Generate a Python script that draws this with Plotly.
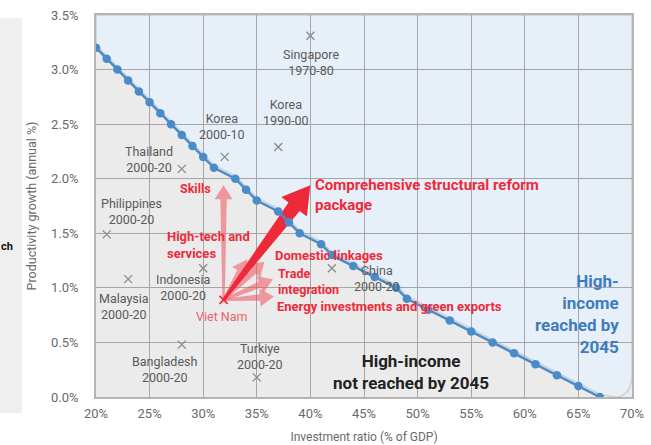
import math
import plotly.graph_objects as go

# Threshold curve: investment ratio needed for a given productivity growth
curve_inv = [20, 21, 22, 23, 24, 25, 26, 27, 28, 29, 30, 31, 33, 34, 35, 37, 38, 39,
             41, 42, 44, 46, 48, 49, 51, 53, 55, 57, 59, 61, 63, 65, 67]
curve_prod = [3.2, 3.1, 3.0, 2.9, 2.8, 2.7, 2.6, 2.5, 2.4, 2.3, 2.2, 2.1, 2.0, 1.9, 1.8,
              1.7, 1.6, 1.5, 1.4, 1.3, 1.2, 1.1, 1.0, 0.9, 0.8, 0.7, 0.6, 0.5, 0.4, 0.3,
              0.2, 0.1, 0.0]

# Country episodes
countries = ["Singapore<br>1970-80", "Korea<br>1990-00", "Korea<br>2000-10",
             "Thailand<br>2000-20", "Philippines<br>2000-20", "Malaysia<br>2000-20",
             "Indonesia<br>2000-20", "Bangladesh<br>2000-20", "Turkiye<br>2000-20",
             "China<br>2000-20"]
country_inv = [40.0, 37.0, 32.0, 28.0, 21.0, 23.0, 30.0, 28.0, 35.0, 42.0]
country_prod = [3.31, 2.29, 2.20, 2.09, 1.49, 1.08, 1.18, 0.48, 0.18, 1.18]
label_inv = [40.1, 37.7, 31.75, 24.9, 23.3, 22.6, 28.2, 26.4, 35.3, 46.2]
label_prod = [3.065, 2.61, 2.48, 2.18, 1.70, 0.83, 1.00, 0.25, 0.37, 1.085]

# Viet Nam and reform scenarios
vn_inv, vn_prod = 31.9, 0.89
reforms = ["Skills", "High-tech and<br>services", "Domestic linkages",
           "Trade<br>integration", "Energy investments and green exports"]
reform_tip_inv = [31.9, 34.1, 35.7, 36.5, 36.6]
reform_tip_prod = [1.94, 1.26, 1.24, 1.08, 0.92]
reform_label_inv = [29.3, 26.4, 36.5, 36.8, 36.7]
reform_label_prod = [1.91, 1.39, 1.295, 1.06, 0.83]
reform_label_size = [12.5, 13, 13, 12.5, 13]
package_label = "Comprehensive structural reform<br>package"
package_tip_inv, package_tip_prod = 40.0, 1.94

x_ticks = [20, 25, 30, 35, 40, 45, 50, 55, 60, 65, 70]
y_ticks = [0.0, 0.5, 1.0, 1.5, 2.0, 2.5, 3.0, 3.5]

BLUE = "#4a8bc9"
RED = "#ee2a3a"
PINK = "rgba(240,82,95,0.55)"
GREY_TXT = "#5a5a5a"

W, H = 651, 445
M = dict(l=96, r=19, t=15, b=48)
X_RANGE, Y_RANGE = (20, 70), (0, 3.5)
px_per_x = (W - M["l"] - M["r"]) / (X_RANGE[1] - X_RANGE[0])
px_per_y = (H - M["t"] - M["b"]) / (Y_RANGE[1] - Y_RANGE[0])


def block_arrow(x0, y0, x1, y1, w_base, w_neck, head_w, head_len):
    """Tapered block arrow outline in data units, sized in screen pixels."""
    sx, sy = x0 * px_per_x, y0 * px_per_y
    tx, ty = x1 * px_per_x, y1 * px_per_y
    L = math.hypot(tx - sx, ty - sy)
    ux, uy = (tx - sx) / L, (ty - sy) / L
    nx, ny = -uy, ux
    neck_x, neck_y = tx - ux * head_len, ty - uy * head_len
    pts = [(sx + nx * w_base, sy + ny * w_base),
           (neck_x + nx * w_neck, neck_y + ny * w_neck),
           (neck_x + nx * head_w, neck_y + ny * head_w),
           (tx, ty),
           (neck_x - nx * head_w, neck_y - ny * head_w),
           (neck_x - nx * w_neck, neck_y - ny * w_neck),
           (sx - nx * w_base, sy - ny * w_base)]
    xs = [p[0] / px_per_x for p in pts] + [pts[0][0] / px_per_x]
    ys = [p[1] / px_per_y for p in pts] + [pts[0][1] / px_per_y]
    return xs, ys


fig = go.Figure()

# Blue "reached" region above the curve, slightly lifted so a pale edge shows
pts = " L ".join(f"{x},{y + 0.025}" for x, y in zip(curve_inv, curve_prod))
region = (f"M {curve_inv[0]},3.5 L {pts} L 68.4,0 Q 70,0 70,0.22 "
          f"L 70,3.5 Z")
fig.add_shape(type="path", path=region, xref="x", yref="y", layer="below",
              fillcolor="#e7eff8", line=dict(color="#cdd1d6", width=1.5))

# Cropped neighbouring panel at the far left
fig.add_shape(type="rect", xref="paper", yref="paper", x0=-0.185, x1=-0.138,
              y0=-0.042, y1=0.992, fillcolor="#efefef", line=dict(width=0),
              layer="below")

# Reform arrows from Viet Nam
for tx, ty in zip(reform_tip_inv, reform_tip_prod):
    ax_, ay_ = block_arrow(vn_inv, vn_prod, tx, ty, 1.2, 3.2, 9, 14)
    fig.add_trace(go.Scatter(x=ax_, y=ay_, mode="lines", fill="toself",
                             fillcolor=PINK, line=dict(width=0),
                             hoverinfo="skip", showlegend=False))
ax_, ay_ = block_arrow(vn_inv, vn_prod, package_tip_inv, package_tip_prod,
                       1.5, 7, 16, 27)
fig.add_trace(go.Scatter(x=ax_, y=ay_, mode="lines", fill="toself",
                         fillcolor=RED, line=dict(width=0),
                         hoverinfo="skip", showlegend=False))

fig.add_trace(go.Scatter(x=curve_inv, y=curve_prod, mode="lines+markers",
                         line=dict(color=BLUE, width=2.5),
                         marker=dict(color=BLUE, size=8.5), hoverinfo="skip",
                         showlegend=False))

fig.add_trace(go.Scatter(x=country_inv, y=country_prod, mode="markers",
                         marker=dict(symbol="x-thin", size=8,
                                     line=dict(color="#8a8a8a", width=1.3)),
                         showlegend=False, hoverinfo="skip"))

for t, x, y in zip(countries, label_inv, label_prod):
    fig.add_annotation(x=x, y=y, text=t, showarrow=False,
                       font=dict(family="Roboto", size=12.5, color=GREY_TXT))

fig.add_trace(go.Scatter(x=[vn_inv], y=[vn_prod], mode="markers",
                         marker=dict(symbol="x-thin", size=8,
                                     line=dict(color=RED, width=1.8)),
                         showlegend=False, hoverinfo="skip"))
fig.add_annotation(x=31.75, y=0.74, text="Viet Nam", showarrow=False,
                   font=dict(family="Roboto", size=12.5, color="#f0606c"))

for i, (t, x, y, s) in enumerate(zip(reforms, reform_label_inv, reform_label_prod,
                                     reform_label_size)):
    fig.add_annotation(x=x, y=y, text=f"<b>{t}</b>", showarrow=False,
                       xanchor="center" if i == 0 else "left", align="left",
                       font=dict(family="Roboto", size=s, color=RED))
fig.add_annotation(x=40.2, y=1.855, text=f"<b>{package_label}</b>",
                   showarrow=False, xanchor="left", align="left",
                   font=dict(family="Roboto", size=15, color=RED))

fig.add_annotation(x=49.4, y=0.225, text="<b>High-income<br>not reached by 2045</b>",
                   showarrow=False, align="center",
                   font=dict(family="Roboto", size=17, color="#222222"))
fig.add_annotation(x=69.0, y=0.756, text="<b>High-<br>income<br>reached by<br>2045</b>",
                   showarrow=False, xanchor="right", align="right",
                   font=dict(family="Roboto", size=17, color="#3d7cc0"))

# Fragment of the adjacent panel's text
fig.add_annotation(xref="paper", yref="paper", x=-0.181, y=0.393, xanchor="left",
                   text="<b>ch</b>", showarrow=False,
                   font=dict(family="Roboto", size=11, color="#111111"))

axis_common = dict(showgrid=True, gridcolor="#a6a6a6", gridwidth=1.2,
                   showline=True, linecolor="#b4b4b4", linewidth=1.5, mirror=True,
                   zeroline=False, ticks="", automargin=False,
                   tickfont=dict(family="Roboto", size=13, color="#6a6a6a"))

fig.update_xaxes(range=list(X_RANGE), tickvals=x_ticks,
                 ticktext=[f"{v}%" for v in x_ticks], ticklabelstandoff=4,
                 title=dict(text="Investment ratio (% of GDP)", standoff=12,
                            font=dict(family="Roboto", size=12, color="#6a6a6a")),
                 **axis_common)
fig.update_yaxes(range=list(Y_RANGE), tickvals=y_ticks,
                 ticktext=[f"{v:.1f}%" for v in y_ticks], ticklabelstandoff=13,
                 title=dict(text="Productivity growth (annual %)", standoff=12,
                            font=dict(family="Roboto", size=12.5, color="#6a6a6a")),
                 **axis_common)

fig.update_layout(width=W, height=H, margin=M,
                  plot_bgcolor="#ebebeb", paper_bgcolor="white",
                  font=dict(family="Roboto"), showlegend=False)

fig.write_html("out.html")
